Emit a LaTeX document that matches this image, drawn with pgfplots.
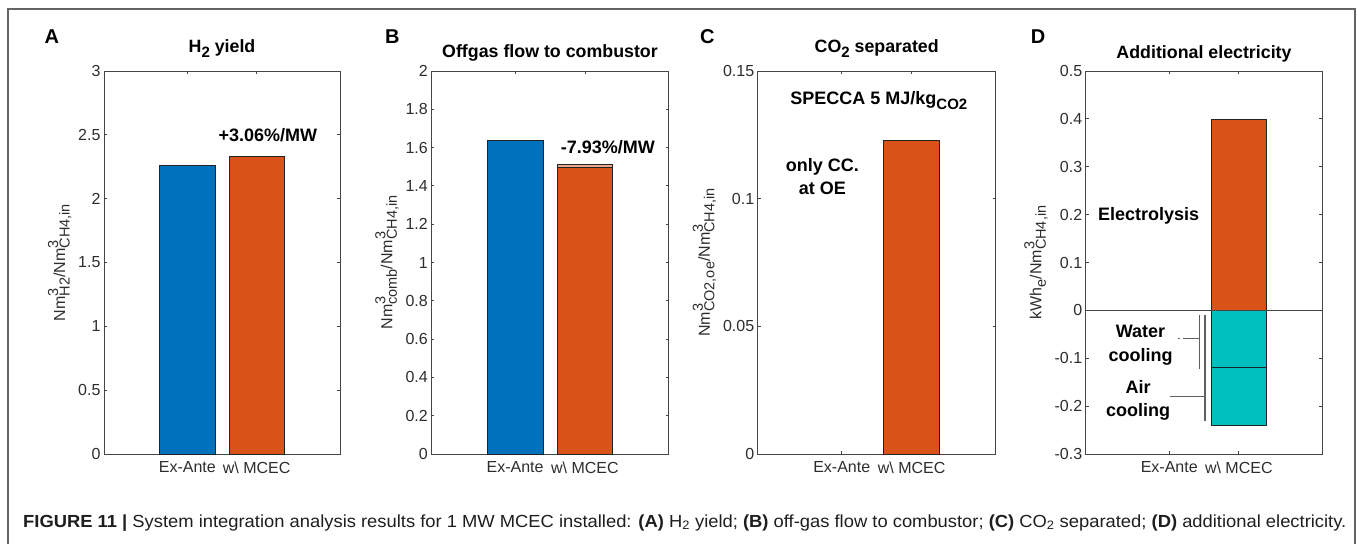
\documentclass[border=0pt]{standalone}
\usepackage{pgfplots}
\pgfplotsset{compat=1.18}
\usepackage{fontspec}
\setmainfont{Liberation Sans}
\usepackage{graphicx}
\definecolor{mblue}{RGB}{0,114,189}
\definecolor{morange}{RGB}{217,83,25}
\definecolor{mlight}{RGB}{236,170,140}
\definecolor{mteal}{RGB}{0,191,191}
\definecolor{axisgray}{RGB}{70,70,70}
\definecolor{tickgray}{RGB}{45,45,45}
\definecolor{baredge}{RGB}{35,35,35}
\definecolor{framegray}{RGB}{100,100,100}
\definecolor{annotgray}{RGB}{95,95,95}
\newcommand{\sz}[1]{{\fontsize{14.5}{16}\selectfont #1}}
\newcommand{\supb}[2]{\rlap{\raisebox{7pt}{\sz{#1}}}\raisebox{-4.5pt}{\sz{#2}}}
\newcommand{\sub}[1]{\raisebox{-4.5pt}{\sz{#1}}}
\newcommand{\tsub}[1]{\raisebox{-5pt}{{\fontsize{15}{16}\selectfont #1}}}
\pgfplotsset{
  common/.style={
    scale only axis, height=383pt, anchor=south west,
    xmin=-0.2, xmax=3.2,
    xtick={1,2}, xticklabels={Ex-Ante, w\textbackslash\ MCEC},
    tick align=inside, tick pos=both,
    xticklabel pos=lower, yticklabel pos=left,
    major tick length=3pt,
    axis line style={draw=axisgray, line width=0.8pt},
    tick style={draw=axisgray, line width=0.8pt},
    ticklabel style={font=\fontsize{16}{18}\selectfont, text=tickgray},
    xticklabel style={yshift=-4pt},
    ylabel style={font=\fontsize{16}{18}\selectfont, text=tickgray},
    title style={font=\bfseries\fontsize{17.8}{20}\selectfont, at={(0.5,1)}, anchor=base},
  },
  mybar/.style={ybar, bar shift=0pt, bar width=0.8, draw=baredge, line width=0.7pt, fill=#1},
}
\begin{document}
\begin{tikzpicture}
\useasboundingbox (0pt,0pt) rectangle (1357pt,544pt);
\draw[framegray, line width=1.2pt] (8pt,0pt) -- (8pt,535pt) -- (1355pt,535pt) -- (1355pt,0pt);

% Panel A
\begin{axis}[common, at={(104pt,90pt)}, width=236pt,
  ymin=0, ymax=3, ytick={0,0.5,1,1.5,2,2.5,3},
  yticklabels={0,0.5,1,1.5,2,2.5,3},
  ylabel={Nm\supb{3}{H2}/Nm\supb{3}{CH4,in}},
  title={H\tsub{2} yield}, title style={yshift=12.5pt}]
\addplot[mybar=mblue] coordinates {(1,2.26)};
\addplot[mybar=morange] coordinates {(2,2.33)};
\node[font=\bfseries\fontsize{18}{22}\selectfont] at (axis cs:2.16,2.499) {+3.06\%/MW};
\end{axis}

% Panel B
\begin{axis}[common, at={(431.3pt,90pt)}, width=237.4pt,
  ymin=0, ymax=2, ytick={0,0.2,0.4,0.6,0.8,1,1.2,1.4,1.6,1.8,2},
  yticklabels={0,0.2,0.4,0.6,0.8,1,1.2,1.4,1.6,1.8,2},
  ylabel={Nm\supb{3}{comb}/Nm\supb{3}{CH4,in}},
  title={Offgas flow to combustor}, title style={yshift=7pt}]
\addplot[mybar=mblue] coordinates {(1,1.638)};
\addplot[mybar=mlight] coordinates {(2,1.511)};
\addplot[mybar=morange] coordinates {(2,1.499)};
\node[font=\bfseries\fontsize{18}{22}\selectfont] at (axis cs:2.33,1.603) {-7.93\%/MW};
\end{axis}

% Panel C
\begin{axis}[common, at={(757.7pt,90pt)}, width=238pt,
  ymin=0, ymax=0.15, ytick={0,0.05,0.1,0.15},
  yticklabels={0,0.05,0.1,0.15},
  ylabel={Nm\supb{3}{CO2,oe}/Nm\supb{3}{CH4,in}},
  title={CO\tsub{2} separated}, title style={yshift=12.5pt}]
\addplot[mybar=morange] coordinates {(2,0.123)};
\node[font=\bfseries\fontsize{18}{22}\selectfont, anchor=base west, inner sep=0pt] at (axis cs:0.265,0.137) {SPECCA 5 MJ/kg\tsub{CO2}};
\node[font=\bfseries\fontsize{18}{22.7}\selectfont, align=center] at (axis cs:0.724,0.1087) {only CC.\\at OE};
\end{axis}

% Panel D
\begin{axis}[common, at={(1085.7pt,90pt)}, width=236.6pt,
  ymin=-0.3, ymax=0.5, ytick={-0.3,-0.2,-0.1,0,0.1,0.2,0.3,0.4,0.5},
  yticklabels={-0.3,-0.2,-0.1,0,0.1,0.2,0.3,0.4,0.5},
  ylabel={kWh\sub{e}/Nm\supb{3}{CH4,in}},
  title={Additional electricity}, title style={yshift=7pt}]
\addplot[mybar=mteal] coordinates {(2,-0.24)};
\addplot[mybar=mteal] coordinates {(2,-0.12)};
\addplot[mybar=morange] coordinates {(2,0.40)};
\draw[axisgray, line width=0.8pt] (axis cs:-0.2,0) -- (axis cs:3.2,0);
\draw[annotgray, line width=1.1pt] (axis cs:1.432,-0.010) -- (axis cs:1.432,-0.123);
\draw[annotgray, line width=1.1pt] (axis cs:1.12,-0.058) -- (axis cs:1.16,-0.058);
\draw[annotgray, line width=1.1pt] (axis cs:1.20,-0.058) -- (axis cs:1.432,-0.058);
\draw[annotgray, line width=1.1pt] (axis cs:1.514,-0.010) -- (axis cs:1.514,-0.232);
\draw[annotgray, line width=1.1pt] (axis cs:1.01,-0.179) -- (axis cs:1.514,-0.179);
\node[font=\bfseries\fontsize{18}{22}\selectfont] at (axis cs:0.705,0.197) {Electrolysis};
\node[font=\bfseries\fontsize{18}{23.4}\selectfont, align=center] at (axis cs:0.588,-0.073) {Water\\cooling};
\node[font=\bfseries\fontsize{18}{23.4}\selectfont, align=center] at (axis cs:0.553,-0.188) {Air\\cooling};
\end{axis}

% Panel letters
\foreach \lx/\lt in {44.3/A, 385/B, 700/C, 1030.7/D}
  \node[anchor=base west, inner sep=0pt, font=\bfseries\fontsize{20}{24}\selectfont] at (\lx pt,500.7pt) {\lt};

% Caption
\node[anchor=base west, inner sep=0pt, text={rgb,255:red,30;green,30;blue,30}] at (23pt,17pt)
  {\resizebox{1323pt}{\height}{\fontsize{17.5}{20}\selectfont\textbf{FIGURE 11 |} System integration analysis results for 1 MW MCEC installed: \textbf{(A)} H\textsubscript{2} yield; \textbf{(B)} off-gas flow to combustor; \textbf{(C)} CO\textsubscript{2} separated; \textbf{(D)} additional electricity.}};
\end{tikzpicture}
\end{document}
